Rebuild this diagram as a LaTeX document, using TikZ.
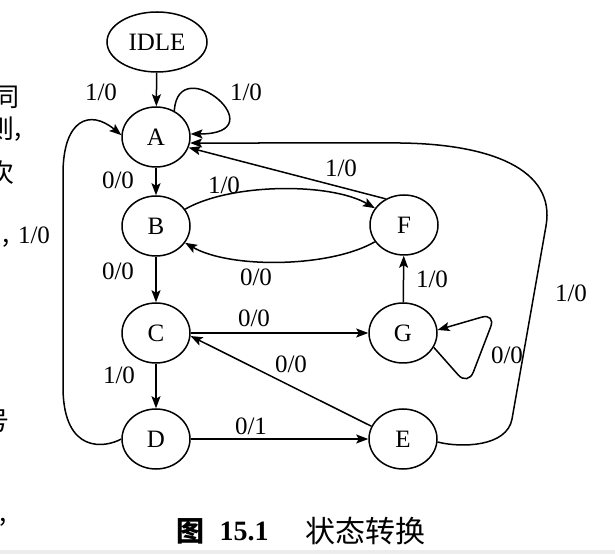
\documentclass[tikz,border=0pt]{standalone}
\usepackage{fontspec}
\setmainfont{Liberation Serif}
\newfontfamily\cjk{Noto Sans CJK SC}
\usetikzlibrary{arrows.meta,shapes.geometric}
\begin{document}
\begin{tikzpicture}[x=1pt,y=1pt,
  st/.style={ellipse,draw,line width=1.5pt,minimum width=68pt,minimum height=60pt,inner sep=0pt,font=\fontsize{25}{25}\selectfont},
  arr/.style={line width=1.5pt,-{Stealth[length=12pt,width=9pt,inset=2.5pt]}},
  lbl/.style={font=\fontsize{25}{25}\selectfont,inner sep=0pt},
  frag/.style={font=\cjk\fontsize{26}{26}\selectfont,inner sep=0pt}]
\useasboundingbox (0,0) rectangle (615,554);
\fill[gray!15] (0,0) rectangle (615,4);
% cropped text fragments at the left edge
\begin{scope}
\clip (0,0) rectangle (615,554);
\node[frag,anchor=east] (f1) at (19.5,456.5) {同};
\node[frag,anchor=east] (f2) at (14.5,425.5) {则};
\node[frag,anchor=west] (f3) at (14,417) {,};
\node[frag,anchor=east] (f4) at (14.5,381.5) {次};
\node[frag,anchor=west] (f5) at (2,311) {,};
\node[frag,anchor=east] (f6) at (9.5,132.7) {号};
\node[frag,anchor=west] (f7) at (-1,31.5) {,};
\end{scope}
% states
\node[st,minimum width=100pt] (IDLE) at (157,512) {IDLE};
\node[st] (A) at (156,417) {A};
\node[st] (B) at (156,328) {B};
\node[st] (C) at (156,221) {C};
\node[st] (D) at (156,115) {D};
\node[st] (F) at (404,329) {F};
\node[st] (G) at (403,221) {G};
\node[st] (E) at (403,115) {E};
% transitions
\draw[arr] (IDLE) -- (A);
\node[lbl] (l1) at (101,462) {1/0};
\draw[arr] (A.55) .. controls +(4,62) and +(88,0) .. (A.5);
\node[lbl] (l2) at (246,462) {1/0};
\draw[arr] (A) -- (B);
\node[lbl] (l3) at (118,374) {0/0};
\draw[arr] (B) -- (C);
\node[lbl] (l4) at (118,283) {0/0};
\draw[arr] (C) -- (D);
\node[lbl] (l5) at (119,179) {1/0};
\draw[arr] (B.30) to[out=30,in=150,looseness=0.7] (F.150);
\node[lbl] (l6) at (224,369) {1/0};
\draw[arr] (F.210) to[out=210,in=-30,looseness=0.7] (B.-30);
\node[lbl] (l7) at (256,277) {0/0};
\draw[arr] (F.125) -- (A.-18);
\node[lbl] (l8) at (341,386) {1/0};
\draw[arr] (C) -- (G);
\node[lbl] (l9) at (254,236) {0/0};
\draw[arr] (E.158) -- (C.-5);
\node[lbl] (l10) at (291,190) {0/0};
\draw[arr] (D) -- (E);
\node[lbl] (l11) at (251,128) {0/1};
\draw[arr] (G) -- (F);
\node[lbl] (l12) at (432,275) {1/0};
\coordinate (g1) at (468,168);
\coordinate (g2) at (496,241);
\draw[arr,rounded corners=15pt] (G.-25) -- (g1) -- (g2) -- (G.5);
\node[lbl] (l13) at (507,199) {0/0};
\coordinate (r1) at (512,135);
\coordinate (r2) at (546,328);
\coordinate (r3) at (400,411);
\draw[arr] (E.-5) .. controls (461,106) and (507,107) .. (r1) -- (r2) .. controls (556,385) and (490,410) .. (r3) -- (A.-10);
\node[lbl] (l14) at (571,261) {1/0};
\coordinate (q1) at (63,165);
\coordinate (q2) at (63,380);
\draw[arr] (D.west) .. controls (105,106) and (64,100) .. (q1) -- (q2) .. controls (63,435) and (90,445) .. (A.177);
\node[lbl] (l15) at (34,319) {1/0};
% caption
\node[font=\cjk\bfseries\fontsize{28}{28}\selectfont,inner sep=0pt] (c1) at (190.5,23) {图};
\node[font=\bfseries\fontsize{28}{28}\selectfont,inner sep=0pt] (c2) at (244,23) {15.1};
\node[font=\cjk\fontsize{30}{30}\selectfont,inner sep=0pt] (c3) at (365,22.5) {状态转换};
\end{tikzpicture}
\end{document}
